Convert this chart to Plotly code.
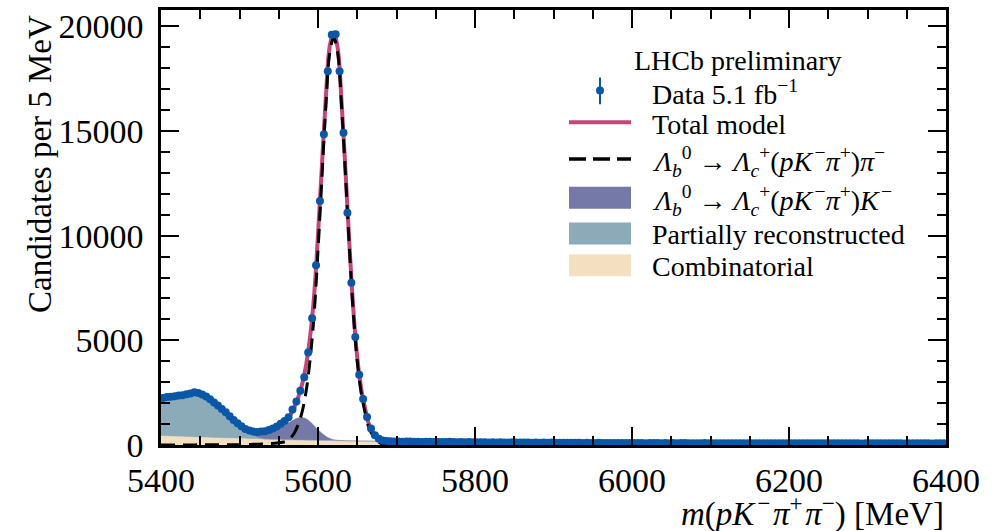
import numpy as np
import plotly.graph_objects as go

# data: candidates per 5 MeV bin, bin centres 5402.5 ... 6397.5
bin_centres = np.arange(5402.5, 6400, 5.0)
data_counts = [
    2250, 2290, 2310, 2330, 2370, 2380, 2420, 2460, 2520, 2490,
    2410, 2320, 2190, 2030, 1890, 1720, 1560, 1370, 1200, 1040,
    890, 770, 690, 640, 625, 640, 660, 720, 790, 880,
    1010, 1150,
    1320, 1700, 2075, 2590, 3240, 4420, 6050, 8585, 11650, 14850,
    17850, 19600, 19620, 17850, 14920, 11100, 7750, 5160, 3350, 2200,
    1335, 790, 470, 300, 220, 190, 178, 168,
    171, 158, 166, 162, 150, 159, 147, 155, 152, 141,
    149, 145, 138, 151, 140, 136, 143, 131, 139, 134,
    128, 137, 130, 125, 133, 121, 129, 124, 118, 127,
    120, 115, 123, 117, 112, 119, 110, 116, 108, 114,
    111, 105, 113, 107, 102, 109, 104, 99, 106, 101,
    98, 104, 97, 101, 95, 100, 93, 98, 96, 91,
    97, 92, 95, 89, 94, 90, 93, 87, 92, 88,
    91, 86, 90, 93, 85, 89, 87, 84, 90, 86,
    88, 83, 89, 85, 87, 82, 88, 84, 86, 81,
    87, 83, 85, 88, 80, 86, 82, 84, 79, 85,
    83, 86, 80, 84, 82, 78, 85, 81, 83, 79,
    84, 80, 82, 86, 78, 83, 80, 82, 77, 84,
    81, 79, 83, 80, 85, 78, 82, 79, 81, 76,
    83, 80, 78, 82, 79, 84, 77, 81, 80, 78,
]

# fit components: 5 MeV steps up to 5700, then 25 MeV steps
m_model = np.concatenate([np.arange(5400, 5701, 5), np.arange(5725, 6401, 25)])
comb = [
    430, 422, 414, 407, 400, 392, 385, 379, 372, 365, 359, 353, 346, 340, 335,
    329, 323, 318, 313, 307, 302, 297, 292, 288, 283, 278, 274, 269, 265, 261,
    257, 253, 249, 245, 242, 238, 234, 231, 228, 224, 221, 218, 215, 212, 209,
    206, 203, 200, 198, 195, 192, 190, 187, 185, 183, 180, 178, 176, 174, 172,
    169,
    160, 151, 144, 137, 131, 125, 120, 116, 112, 109, 106, 103, 100, 98,
    96, 94, 93, 92, 90, 89, 88, 87, 87, 86, 85, 85, 84, 84,
]
part_reco = [
    1810, 1840, 1880, 1915, 1945, 1980, 2015, 2055, 2100, 2120, 2085, 2010,
    1895, 1760, 1610, 1450, 1285, 1105, 920, 735, 560, 405, 275, 180, 110,
    57, 18, 5,
] + [0] * 61
lb_lck = [
    0, 0, 0, 0, 1, 1, 1, 2, 2, 3, 3, 4,
    5, 8, 12, 17, 24, 33, 45, 60, 80, 105, 135, 170, 210, 255, 305, 360,
    420, 490, 570, 660, 760, 870, 980, 1060, 1080, 1020, 880, 700, 510, 340,
    200, 100, 45, 20, 10, 5, 2,
] + [0] * 40
lb_lcpi = [
    3, 3, 3, 4, 4, 4, 5, 5, 5, 6, 6, 7, 7, 8, 8, 9, 10, 11, 12, 13,
    15, 18, 22, 27, 33, 40, 48, 58, 70, 85, 105, 135, 170, 330, 590, 1000,
    1620, 2600, 4100, 6200, 9300, 12800, 16200, 18750, 19450, 18750, 16200,
    12900, 9400, 6300, 4000, 2500, 1550, 800, 450, 200, 80, 40, 22, 12, 7,
] + [0] * 28
total_model = np.array(comb) + np.array(part_reco) + np.array(lb_lck) + np.array(lb_lcpi)

serif = "Liberation Serif"
blue = "#0a57a8"
pink = "#c4467c"
c_comb = "#f4e0bf"
c_part = "#8aabb7"
c_lck = "#7479a7"

hs = "\u200a"
lbl_lck = ("<i>Λ</i><sub><i>b</i></sub><sup>0</sup> → <i>Λ</i><sub><i>c</i></sub><sup>+</sup>"
           "(<i>pK</i>" + hs + "<sup>−</sup><i>π</i><sup>+</sup>)<i>K</i>" + hs + "<sup>−</sup>")
lbl_lcpi = ("<i>Λ</i><sub><i>b</i></sub><sup>0</sup> → <i>Λ</i><sub><i>c</i></sub><sup>+</sup>"
            "(<i>pK</i>" + hs + "<sup>−</sup><i>π</i><sup>+</sup>)<i>π</i><sup>−</sup>")

fig = go.Figure()
fig.add_trace(go.Scatter(x=m_model, y=comb, stackgroup="bkg", mode="lines",
                         line=dict(width=0.5, color=c_comb, shape="spline"),
                         fillcolor=c_comb, name="Combinatorial"))
fig.add_trace(go.Scatter(x=m_model, y=part_reco, stackgroup="bkg", mode="lines",
                         line=dict(width=0.5, color=c_part, shape="spline"),
                         fillcolor=c_part, name="Partially reconstructed"))
fig.add_trace(go.Scatter(x=m_model, y=lb_lck, stackgroup="bkg", mode="lines",
                         line=dict(width=0.5, color=c_lck, shape="spline"),
                         fillcolor=c_lck, name=lbl_lck))
fig.add_trace(go.Scatter(x=m_model, y=total_model, mode="lines",
                         line=dict(width=4, color=pink, shape="spline"),
                         name="Total model"))
fig.add_trace(go.Scatter(x=m_model, y=lb_lcpi, mode="lines",
                         line=dict(width=3, color="black", dash="14px,8px", shape="spline"),
                         name=lbl_lcpi))
fig.add_trace(go.Scatter(x=bin_centres, y=data_counts, mode="markers",
                         marker=dict(size=8, color=blue),
                         error_y=dict(type="data", array=np.sqrt(data_counts), color=blue,
                                      thickness=1.5, width=0),
                         cliponaxis=False, name="Data 5.1 fb<sup>−1</sup>"))

axis_style = dict(showline=True, linecolor="black", linewidth=2.5, mirror="ticks",
                  ticks="inside", ticklen=18, tickwidth=2, tickcolor="black",
                  showgrid=False, zeroline=False, tickformat="d",
                  tickfont=dict(family=serif, size=34, color="black"))

fig.update_xaxes(range=[5400, 6400], dtick=200, tick0=5400,
                 minor=dict(ticks="inside", ticklen=9, tickwidth=2, dtick=50, tickcolor="black"),
                 ticklabelstandoff=3, **axis_style)
fig.update_yaxes(range=[0, 20780], dtick=5000, tick0=0,
                 minor=dict(ticks="inside", ticklen=9, tickwidth=2, dtick=1000, tickcolor="black"),
                 ticklabelstandoff=8, **axis_style)

# hand-drawn legend, positions in pixels of the 1004x531 page
L, R, T, B = 161, 946, 7, 445
def px(xp):
    return (xp - L) / (R - L)
def py(yp):
    return (B - yp) / (B - T)

sym_x0, sym_x1, text_x = 569, 631, 650
shapes = [
    dict(type="line", x0=px(600), x1=px(600), y0=py(75), y1=py(102),
         line=dict(color=blue, width=2)),
    dict(type="circle", x0=px(596), x1=px(604), y0=py(84), y1=py(92),
         fillcolor=blue, line=dict(color=blue, width=0)),
    dict(type="line", x0=px(sym_x0), x1=px(sym_x1), y0=py(120), y1=py(120),
         line=dict(color=pink, width=4)),
    dict(type="line", x0=px(sym_x0), x1=px(sym_x1), y0=py(157), y1=py(157),
         line=dict(color="black", width=3.5, dash="17px,7px")),
    dict(type="rect", x0=px(sym_x0), x1=px(sym_x1), y0=py(185), y1=py(207),
         fillcolor=c_lck, line=dict(width=0)),
    dict(type="rect", x0=px(sym_x0), x1=px(sym_x1), y0=py(221), y1=py(243),
         fillcolor=c_part, line=dict(width=0)),
    dict(type="rect", x0=px(sym_x0), x1=px(sym_x1), y0=py(253), y1=py(275),
         fillcolor=c_comb, line=dict(width=0)),
]
for s in shapes:
    s.update(xref="paper", yref="paper", layer="above")

legend_rows = [
    ("LHCb preliminary", 738, 58, "center"),
    ("Data 5.1 fb<sup>−1</sup>", text_x, 90, "left"),
    ("Total model", text_x, 122, "left"),
    (lbl_lcpi, text_x, 160, "left"),
    (lbl_lck, text_x, 199, "left"),
    ("Partially reconstructed", text_x, 233, "left"),
    ("Combinatorial", text_x, 265, "left"),
]
annotations = [
    dict(text=t, xref="paper", yref="paper", x=px(xp), y=py(yp), xanchor=anc,
         yanchor="middle", showarrow=False, font=dict(family=serif, size=28, color="black"))
    for t, xp, yp, anc in legend_rows
]
annotations += [
    dict(text="<i>m</i>(<i>pK</i>" + hs + "<sup>−</sup>" + hs + "<i>π</i><sup>+</sup>" + hs
              + "<i>π</i><sup>−</sup>) [MeV]",
         xref="paper", yref="paper", x=1, y=0, xanchor="right", yanchor="middle",
         yshift=-66, showarrow=False, font=dict(family=serif, size=33, color="black")),
    dict(text="Candidates per 5 MeV", textangle=-90,
         xref="paper", yref="paper", x=0, y=1, xanchor="center", yanchor="top",
         xshift=-121, yshift=-3, showarrow=False, font=dict(family=serif, size=33, color="black")),
]

fig.update_layout(
    width=1004, height=531,
    margin=dict(l=L, r=1004 - R, t=T, b=531 - B),
    paper_bgcolor="white", plot_bgcolor="white",
    font=dict(family=serif, color="black"),
    showlegend=False,
    shapes=shapes,
    annotations=annotations,
)

fig.write_html("out.html", config={"displayModeBar": False},
               post_script="document.body.style.margin='0';")
